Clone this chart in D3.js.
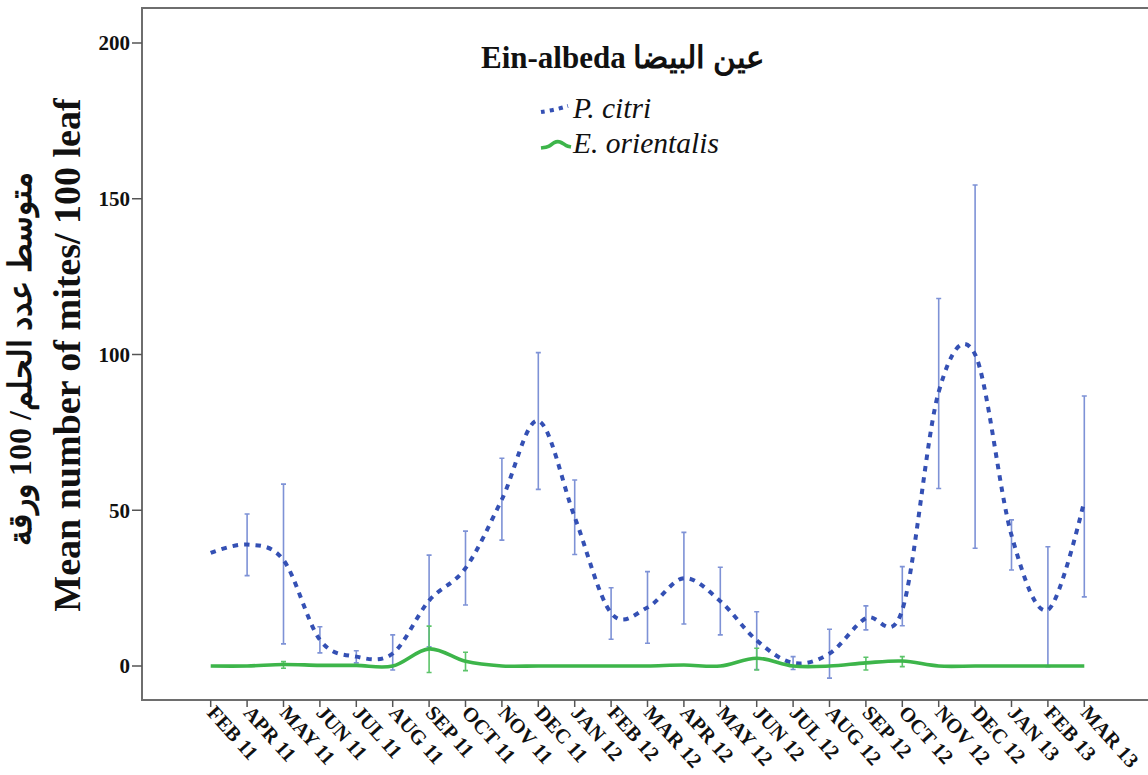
<!DOCTYPE html>
<html>
<head>
<meta charset="utf-8">
<script src="https://cdn.jsdelivr.net/npm/d3@7"></script>
<style>
  html, body { margin: 0; padding: 0; background: #fff; }
  svg { display: block; }
  text { font-family: "Liberation Serif", "Times New Roman", "DejaVu Serif", serif; fill: #111; }
</style>
</head>
<body>
<svg id="chart" width="1148" height="775"></svg>
<script>
// Monthly sampling dates, Ein-albeda orchard
const months = ["FEB 11","APR 11","MAY 11","JUN 11","JUL 11","AUG 11","SEP 11","OCT 11","NOV 11","DEC 11",
  "JAN 12","FEB 12","MAR 12","APR 12","MAY 12","JUN 12","JUL 12","AUG 12","SEP 12","OCT 12",
  "NOV 12","DEC 12","JAN 13","FEB 13","MAR 13"];

// Panonychus citri: mean mites / 100 leaves and error bar limits
const citriMean = [36.3, 39, 34, 8.4, 3, 4, 21, 31.4, 53.5, 78.7,
  47.8, 17, 18.8, 28.2, 20.8, 8.2, 1, 4, 15.4, 18,
  88, 100, 42, 18, 53];
const citriLow  = [null, 29, 7.1, 4.2, 1.0, -1.3, 6.2, 19.6, 40.4, 56.7,
  35.8, 8.6, 7.3, 13.5, 10.0, -1.1, -1.1, -3.9, 11.6, 12.9,
  57.0, 37.8, 30.8, -0.2, 22.2];
const citriHigh = [null, 48.8, 58.4, 12.6, 4.9, 10, 35.6, 43.3, 66.7, 100.6,
  59.7, 25.1, 30.3, 42.9, 31.7, 17.4, 3.0, 11.8, 19.3, 31.9,
  118.0, 154.4, 46.9, 38.3, 86.7];

// Eutetranychus orientalis: mean mites / 100 leaves and error bar limits
const orientMean = [0, 0, 0.5, 0.2, 0.2, 0, 5.5, 1.5, 0, 0,
  0, 0, 0, 0.3, 0, 2.5, 0, 0, 1, 1.6,
  0, 0, 0, 0, 0];
const orientLow  = [null, null, -0.7, null, null, null, -2.1, -1.5, null, null,
  null, null, null, null, null, -1.3, null, null, -1.3, -0.2,
  null, null, null, null, null];
const orientHigh = [null, null, 1.4, null, null, null, 12.8, 4.4, null, null,
  null, null, null, null, null, 5.7, null, null, 2.8, 3.0,
  null, null, null, null, null];

const yTicks = [0, 50, 100, 150, 200];

const titleText = "Ein-albeda عين البيضا";
const yLabelEn = "Mean number of mites/ 100 leaf";
const yLabelAr = "متوسط عدد الحلم/ 100 ورقة";
const seriesNames = ["P. citri", "E. orientalis"];

// Colours
const citriColor = "#3450b4";
const citriBarColor = "#7e92d6";
const orientColor = "#3db54a";
const orientBarColor = "#5cc46a";

// Plot frame
const frame = { left: 142, top: 8, bottom: 700, right: 1160 };

const svg = d3.select("#chart");

const x = d3.scalePoint().domain(months).range([210.7, 1084.3]);
const y = d3.scaleLinear().domain([0, 200]).range([666, 43]);

// Frame (right side runs past the visible page)
svg.append("path")
  .attr("d", `M${frame.right},${frame.top}H${frame.left}V${frame.bottom}H${frame.right}`)
  .attr("fill", "none")
  .attr("stroke", "#6e6e6e")
  .attr("stroke-width", 2);

// Y axis ticks and labels
const yAxis = svg.append("g");
yAxis.selectAll("line").data(yTicks).join("line")
  .attr("x1", frame.left - 10).attr("x2", frame.left)
  .attr("y1", d => y(d)).attr("y2", d => y(d))
  .attr("stroke", "#555").attr("stroke-width", 1.5);
yAxis.selectAll("text").data(yTicks).join("text")
  .attr("x", frame.left - 12).attr("y", d => y(d))
  .attr("dy", "0.35em")
  .attr("text-anchor", "end")
  .attr("font-weight", "bold")
  .attr("font-size", 21)
  .text(d => d);

// X axis ticks and rotated labels
const xAxis = svg.append("g");
xAxis.selectAll("line").data(months).join("line")
  .attr("x1", d => x(d)).attr("x2", d => x(d))
  .attr("y1", frame.bottom).attr("y2", frame.bottom + 7)
  .attr("stroke", "#555").attr("stroke-width", 1.5);
xAxis.selectAll("text").data(months).join("text")
  .attr("transform", d => `translate(${x(d) + 6},${frame.bottom + 4}) rotate(48)`)
  .attr("dy", "0.7em")
  .attr("font-weight", "bold")
  .attr("font-size", 20.5)
  .text(d => d);

// Axis titles
svg.append("text")
  .attr("transform", "translate(80,355) rotate(-90)")
  .attr("text-anchor", "middle")
  .attr("font-weight", "bold")
  .attr("font-size", 38)
  .text(yLabelEn);
svg.append("text")
  .attr("transform", "translate(31,359) rotate(-90)")
  .attr("text-anchor", "middle")
  .attr("direction", "rtl")
  .attr("font-weight", "bold")
  .attr("font-size", 32)
  .text(yLabelAr);

// Error bars
function errorBars(low, high, color) {
  const idx = months.map((m, i) => i).filter(i => low[i] !== null);
  const g = svg.append("g").attr("stroke", color).attr("stroke-width", 1.6).attr("fill", "none");
  g.selectAll("path").data(idx).join("path")
    .attr("d", i => {
      const cx = x(months[i]), y0 = y(low[i]), y1 = y(high[i]);
      return `M${cx},${y0}V${y1}M${cx - 2.5},${y0}H${cx + 2.5}M${cx - 2.5},${y1}H${cx + 2.5}`;
    });
}
errorBars(citriLow, citriHigh, citriBarColor);
errorBars(orientLow, orientHigh, orientBarColor);

// Smoothed series lines
const line = d3.line()
  .x((d, i) => x(months[i]))
  .y(d => y(d))
  .curve(d3.curveCardinal.tension(0));

svg.append("path")
  .datum(citriMean)
  .attr("d", line)
  .attr("fill", "none")
  .attr("stroke", citriColor)
  .attr("stroke-width", 4)
  .attr("stroke-dasharray", "5.5,6");

svg.append("path")
  .datum(orientMean)
  .attr("d", line)
  .attr("fill", "none")
  .attr("stroke", orientColor)
  .attr("stroke-width", 3.6);

// Title
svg.append("text")
  .attr("x", 481).attr("y", 68)
  .attr("font-weight", "bold")
  .attr("font-size", 31)
  .text(titleText);

// Legend
const legend = svg.append("g");
legend.append("path")
  .attr("d", d3.line().curve(d3.curveBasis)([[541, 112], [554, 110], [568, 106]]))
  .attr("fill", "none")
  .attr("stroke", citriColor)
  .attr("stroke-width", 4)
  .attr("stroke-dasharray", "4,5");
legend.append("path")
  .attr("d", d3.line().curve(d3.curveBasis)([[541, 148], [549, 147], [554, 142], [560, 141], [566, 146], [571, 147]]))
  .attr("fill", "none")
  .attr("stroke", orientColor)
  .attr("stroke-width", 3.6);
legend.selectAll("text").data(seriesNames).join("text")
  .attr("x", 573)
  .attr("y", (d, i) => 118 + i * 35)
  .attr("font-style", "italic")
  .attr("font-size", 29.5)
  .text(d => d);
</script>
</body>
</html>
